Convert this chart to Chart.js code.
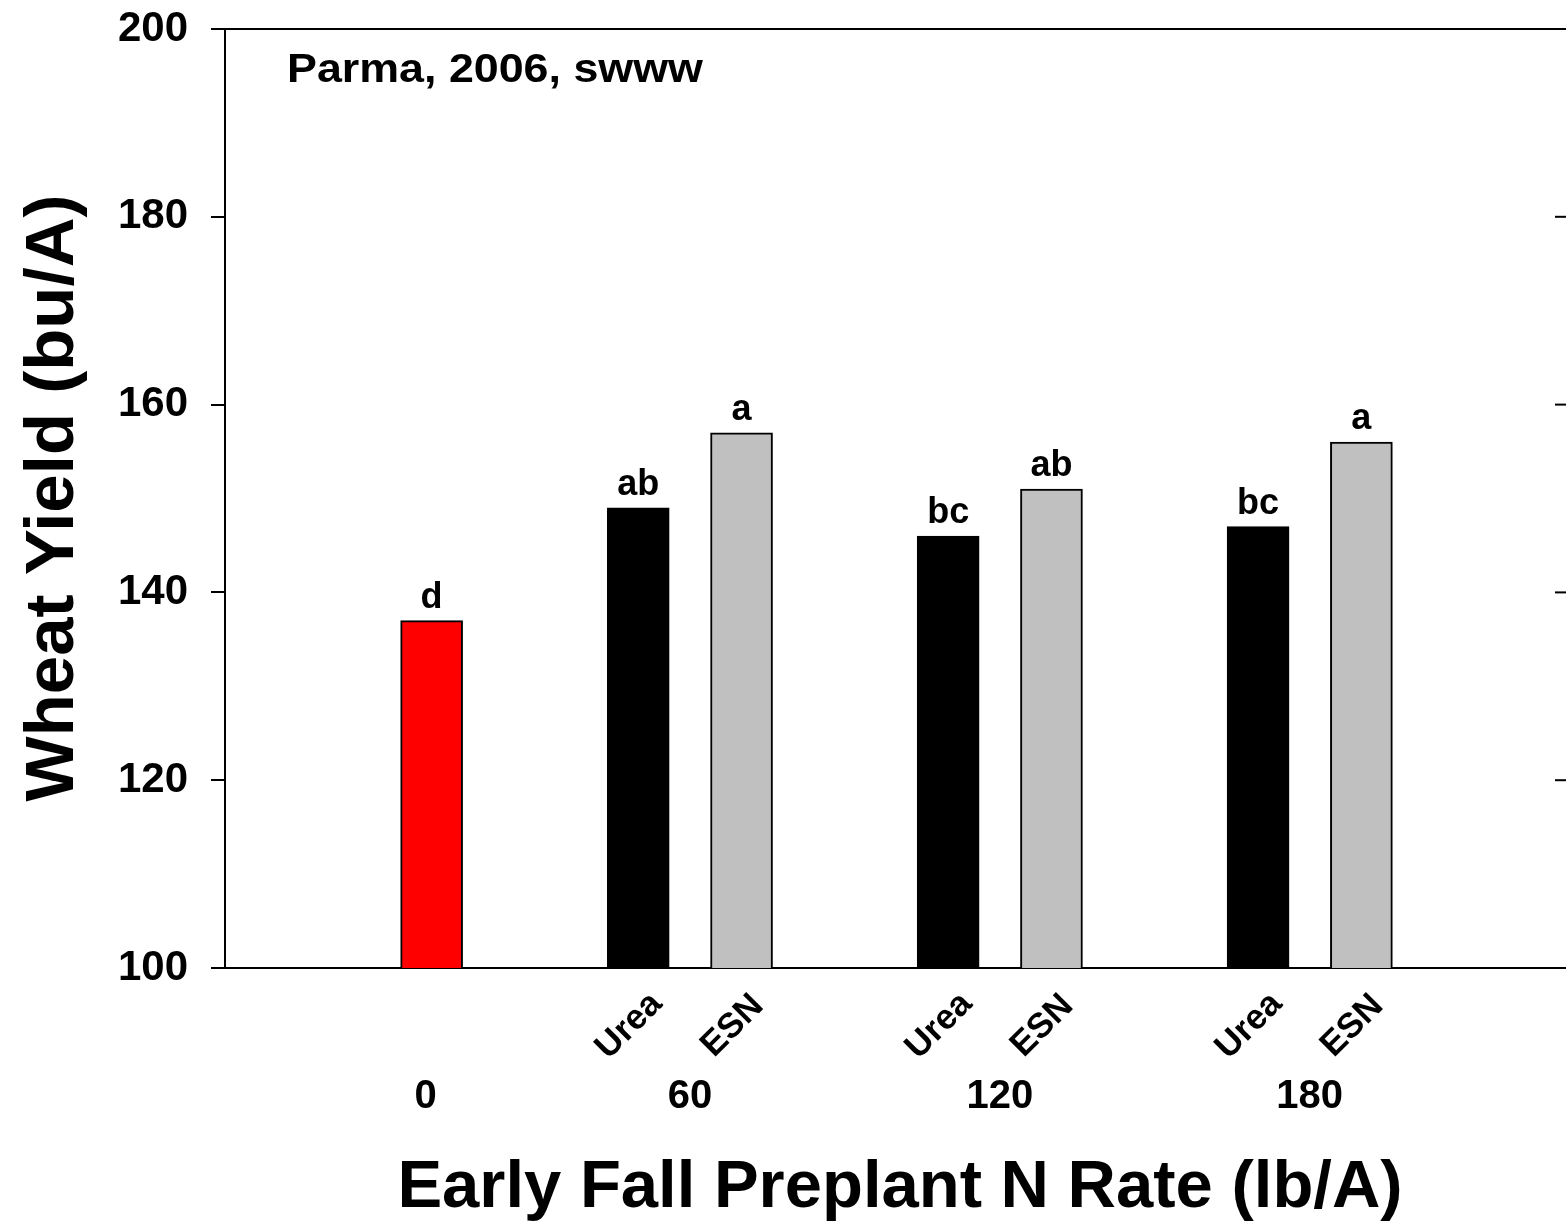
<!DOCTYPE html>
<html>
<head>
<meta charset="utf-8">
<title>Parma 2006 wheat yield</title>
<script src="https://cdn.jsdelivr.net/npm/chart.js@4/dist/chart.umd.min.js"></script>
<style>
  html, body { margin: 0; padding: 0; background: #fff; overflow: hidden; }
  #wrap { width: 1566px; height: 1222px; overflow: hidden; }
</style>
</head>
<body>
<div id="wrap"><canvas id="chart" width="1580" height="1222"></canvas></div>
<script>
// ---- data ----
const nRates = ['0', '60', '120', '180'];
const sources = ['Urea', 'ESN'];
const checkYield = [137];
const ureaYield = [149, 146, 147];
const esnYield = [157, 151, 156];
const checkLetters = ['d'];
const ureaLetters = ['ab', 'bc', 'bc'];
const esnLetters = ['a', 'ab', 'a'];
const yTicks = [100, 120, 140, 160, 180, 200];

const FONT = "'Liberation Sans', Arial, Helvetica, sans-serif";
const fills = { Check: '#ff0000', Urea: '#000000', ESN: '#c0c0c0' };

// build category slots: spacers keep the gaps the original plot has
const slots = [];
const pushSpacer = () => slots.push({ rate: null, source: null, y: null, letter: '' });
pushSpacer(); pushSpacer();
slots.push({ rate: nRates[0], source: 'Check', y: checkYield[0], letter: checkLetters[0] });
nRates.slice(1).forEach((rate, i) => {
    pushSpacer();
    slots.push({ rate, source: sources[0], y: ureaYield[i], letter: ureaLetters[i] });
    slots.push({ rate, source: sources[1], y: esnYield[i], letter: esnLetters[i] });
});
pushSpacer(); pushSpacer();

// extra drawing: frame, inward right ticks, letters, axis titles
const decorations = {
    id: 'decorations',
    afterDatasetsDraw(chart) {
        const { ctx, chartArea: a, scales } = chart;
        const y = scales.y, x = scales.x;
        ctx.save();
        ctx.strokeStyle = '#000';
        ctx.lineWidth = 2;

        // top frame line and right axis
        ctx.beginPath();
        ctx.moveTo(a.left - 14, a.top);
        ctx.lineTo(a.right, a.top);
        ctx.lineTo(a.right, a.bottom);
        ctx.stroke();
        yTicks.forEach(v => {
            const py = y.getPixelForValue(v);
            ctx.beginPath();
            ctx.moveTo(a.right - 13, py);
            ctx.lineTo(a.right, py);
            ctx.stroke();
        });

        ctx.fillStyle = '#000';

        // significance letters over bars
        const meta = chart.getDatasetMeta(0);
        ctx.font = 'bold 36px ' + FONT;
        ctx.textAlign = 'center';
        ctx.textBaseline = 'alphabetic';
        slots.forEach((s, i) => {
            if (s.y == null) return;
            const bar = meta.data[i];
            ctx.fillText(s.letter, bar.x, bar.y - 13);
        });

        // rotated source labels
        ctx.font = 'bold 35px ' + FONT;
        ctx.textBaseline = 'middle';
        slots.forEach((s, i) => {
            if (!s.source || s.source === 'Check') return;
            ctx.save();
            ctx.translate(x.getPixelForValue(i) - 9, 1026);
            ctx.rotate(-Math.PI / 4);
            ctx.fillText(s.source, 0, 0);
            ctx.restore();
        });

        // N rate group labels
        ctx.font = 'bold 40px ' + FONT;
        ctx.textBaseline = 'alphabetic';
        nRates.forEach(rate => {
            const idx = slots.map((s, i) => s.rate === rate ? i : -1).filter(i => i >= 0);
            const cx = idx.reduce((t, i) => t + x.getPixelForValue(i), 0) / idx.length;
            ctx.fillText(rate, rate === '0' ? cx - 6 : cx, 1108);
        });

        // site label
        ctx.save();
        ctx.translate(287, 82);
        ctx.scale(1.12, 1);
        ctx.textAlign = 'left';
        ctx.font = 'bold 40px ' + FONT;
        ctx.fillText('Parma, 2006, swww', 0, 0);
        ctx.restore();

        // axis titles
        ctx.textAlign = 'center';
        ctx.font = 'bold 67px ' + FONT;
        ctx.fillText('Early Fall Preplant N Rate (lb/A)', 900, 1207);

        ctx.save();
        ctx.translate(73, 498);
        ctx.rotate(-Math.PI / 2);
        ctx.font = 'bold 69px ' + FONT;
        ctx.fillText('Wheat Yield (bu/A)', 0, 0);
        ctx.restore();

        ctx.restore();
    }
};

new Chart(document.getElementById('chart'), {
    type: 'bar',
    data: {
        labels: slots.map(s => s.source ? s.rate + ' ' + s.source : ''),
        datasets: [{
            data: slots.map(s => s.y),
            backgroundColor: slots.map(s => s.source ? fills[s.source] : 'transparent'),
            borderColor: '#000',
            borderWidth: 2,
            borderSkipped: false,
            barThickness: 62
        }]
    },
    options: {
        responsive: false,
        animation: false,
        layout: { padding: { top: 29, right: 12, bottom: 254, left: 0 } },
        plugins: { legend: { display: false }, tooltip: { enabled: false } },
        scales: {
            x: {
                offset: false,
                grid: { display: false },
                ticks: { display: false },
                border: { display: true, color: '#000', width: 2 },
                afterFit(scale) { scale.height = 0; }
            },
            y: {
                min: 100, max: 200,
                afterBuildTicks(scale) { scale.ticks = yTicks.map(v => ({ value: v })); },
                ticks: {
                    color: '#000',
                    padding: 23,
                    font: { family: FONT, size: 42, weight: 'bold' }
                },
                grid: { drawOnChartArea: false, color: '#000', lineWidth: 2, tickLength: 14 },
                border: { display: true, color: '#000', width: 2 },
                afterFit(scale) {
                    scale.width = 225;
                    scale.paddingTop = 0;
                    scale.paddingBottom = 0;
                }
            }
        }
    },
    plugins: [decorations]
});
</script>
</body>
</html>
